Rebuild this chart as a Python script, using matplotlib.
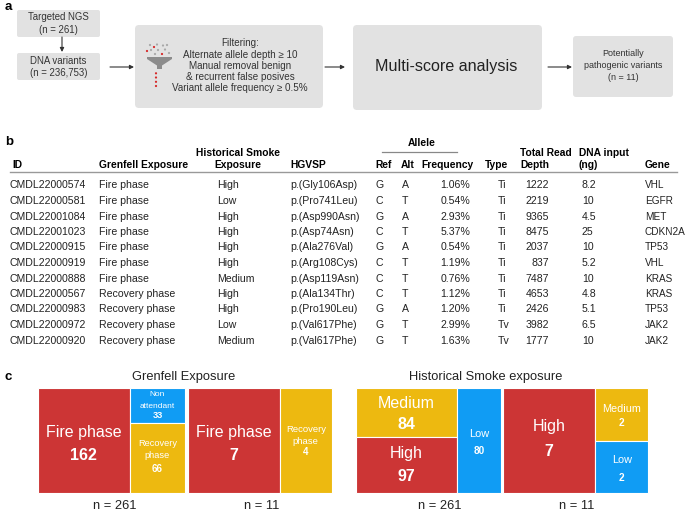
import matplotlib
matplotlib.use('Agg')
import matplotlib.pyplot as plt
from matplotlib.patches import FancyBboxPatch, Polygon, Circle

plt.rcParams['font.family'] = ['Liberation Sans', 'DejaVu Sans']

# ---------------- data ----------------
ids = ["CMDL22000574", "CMDL22000581", "CMDL22001084", "CMDL22001023", "CMDL22000915",
       "CMDL22000919", "CMDL22000888", "CMDL22000567", "CMDL22000983", "CMDL22000972",
       "CMDL22000920"]
grenfell = ["Fire phase"] * 7 + ["Recovery phase"] * 4
smoke = ["High", "Low", "High", "High", "High", "High", "Medium", "High", "High", "Low", "Medium"]
hgvsp = ["p.(Gly106Asp)", "p.(Pro741Leu)", "p.(Asp990Asn)", "p.(Asp74Asn)", "p.(Ala276Val)",
         "p.(Arg108Cys)", "p.(Asp119Asn)", "p.(Ala134Thr)", "p.(Pro190Leu)", "p.(Val617Phe)",
         "p.(Val617Phe)"]
ref = ["G", "C", "G", "C", "G", "C", "C", "C", "G", "G", "G"]
alt = ["A", "T", "A", "T", "A", "T", "T", "T", "A", "T", "T"]
freq = [1.06, 0.54, 2.93, 5.37, 0.54, 1.19, 0.76, 1.12, 1.20, 2.99, 1.63]
vtype = ["Ti"] * 9 + ["Tv", "Tv"]
depth = [1222, 2219, 9365, 8475, 2037, 837, 7487, 4653, 2426, 3982, 1777]
dna_input = ["8.2", "10", "4.5", "25", "10", "5.2", "10", "4.8", "5.1", "6.5", "10"]
gene = ["VHL", "EGFR", "MET", "CDKN2A", "TP53", "VHL", "KRAS", "KRAS", "TP53", "JAK2", "JAK2"]

# mosaic data: columns of stacked categories (top to bottom)
gren_all_cols = [["Fire phase"], ["Non attendant", "Recovery phase"]]
gren_all_counts = {"Fire phase": 162, "Non attendant": 33, "Recovery phase": 66}
gren_path_cols = [["Fire phase"], ["Recovery phase"]]
gren_path_counts = {"Fire phase": 7, "Recovery phase": 4}
smoke_all_cols = [["Medium", "High"], ["Low"]]
smoke_all_counts = {"High": 97, "Medium": 84, "Low": 80}
smoke_path_cols = [["High"], ["Medium", "Low"]]
smoke_path_counts = {"High": 7, "Medium": 2, "Low": 2}

RED = "#cc3535"
YEL = "#edb910"
BLU = "#109cf4"
cat_colors = {"Fire phase": RED, "Non attendant": BLU, "Recovery phase": YEL,
              "High": RED, "Medium": YEL, "Low": BLU}

# ---------------- figure ----------------
fig = plt.figure(figsize=(6.85, 5.14), dpi=100)
ax = fig.add_axes([0, 0, 1, 1])
ax.set_xlim(0, 685)
ax.set_ylim(514, 0)
ax.axis('off')

TXT = "#333333"
BOX = "#e2e2e2"

# panel letters
for lab, (x, y) in {"a": (5, 7), "b": (5, 142), "c": (5, 377)}.items():
    ax.text(x, y, lab, fontsize=9.5, fontweight='bold', va='center', ha='left')

def box(x0, y0, x1, y1, r):
    ax.add_patch(FancyBboxPatch((x0, y0), x1 - x0, y1 - y0,
                                boxstyle=f"round,pad=0,rounding_size={r}",
                                fc=BOX, ec='none'))

def arrow(x0, y0, x1, y1):
    ax.annotate('', xy=(x1, y1), xytext=(x0, y0),
                arrowprops=dict(arrowstyle='-|>', color='#333333', lw=0.8,
                                mutation_scale=6, shrinkA=0, shrinkB=0))

# ---- panel a: flowchart ----
box(17, 10, 100, 37, 2)
ax.text(58.5, 17, "Targeted NGS", fontsize=6.9, ha='center', va='center', color=TXT)
ax.text(58.5, 30, "(n = 261)", fontsize=6.9, ha='center', va='center', color=TXT)
arrow(62, 37, 62, 52)
box(17, 53, 100, 80, 2)
ax.text(58.5, 61.5, "DNA variants", fontsize=6.9, ha='center', va='center', color=TXT)
ax.text(58.5, 73, "(n = 236,753)", fontsize=6.9, ha='center', va='center', color=TXT)
arrow(110, 67, 134, 67)
box(135, 25, 323, 108, 4)
filt_lines = ["Filtering:", "Alternate allele depth \u2265 10", "Manual removal benign",
              "& recurrent false posives", "Variant allele frequency \u2265 0.5%"]
for i, s in enumerate(filt_lines):
    ax.text(240, 43.5 + i * 11.2, s, fontsize=7.1, ha='center', va='center', color=TXT)
# funnel icon
ax.add_patch(Polygon([(147, 57), (172, 57), (172, 59), (162, 65.5), (162, 69),
                      (157, 69), (157, 65.5), (147, 59)], closed=True, fc='#8c8c8c', ec='none'))
gray_dots = [(150, 45), (157, 44.5), (163, 45.5), (151, 50), (158, 50), (165, 49.5),
             (155, 54), (169, 53), (167, 45)]
red_dots = [(154, 47), (147, 51), (162, 54), (156, 73.3), (156, 77.5), (156, 81.8), (156, 86)]
for (x, y) in gray_dots:
    ax.add_patch(Circle((x, y), 1.1, fc='#a8a8a8', ec='none'))
for (x, y) in red_dots:
    ax.add_patch(Circle((x, y), 1.1, fc='#d62828', ec='none'))
arrow(325, 67, 345, 67)
box(353, 25, 542, 110, 4)
ax.text(446, 67, "Multi-score analysis", fontsize=11.6, ha='center', va='center', color='#222222')
arrow(548, 67, 572, 67)
box(573, 36, 673, 97, 3)
for i, s in enumerate(["Potentially", "pathogenic variants", "(n = 11)"]):
    ax.text(623, 54 + i * 11.5, s, fontsize=6.5, ha='center', va='center', color=TXT)

# ---- panel b: table ----
HFS = 7.4
RFS = 7.6
hy2, hy1 = 164.5, 153.5
ax.text(421.5, 142.5, "Allele", fontsize=HFS, fontweight='bold', ha='center', va='center')
ax.plot([382, 457], [151.5, 151.5], color='#888888', lw=0.9)
headers = [(12, hy2, "ID"), (99, hy2, "Grenfell Exposure"), (290, hy2, "HGVSP"),
           (375, hy2, "Ref"), (401, hy2, "Alt"), (421, hy2, "Frequency"), (485, hy2, "Type"),
           (520, hy1, "Total Read"), (520, hy2, "Depth"), (579, hy1, "DNA input"),
           (579, hy2, "(ng)"), (645, hy2, "Gene")]
for x, y, s in headers:
    ax.text(x, y, s, fontsize=HFS, fontweight='bold', ha='left', va='center')
ax.text(238, hy1, "Historical Smoke", fontsize=HFS, fontweight='bold', ha='center', va='center')
ax.text(238, hy2, "Exposure", fontsize=HFS, fontweight='bold', ha='center', va='center')
ax.plot([10, 677], [172, 172], color='#999999', lw=1.0)

RC = '#222222'
for i in range(len(ids)):
    y = 185.5 + i * 15.5
    ax.text(10, y, ids[i], fontsize=RFS, ha='left', va='center', color=RC)
    ax.text(99, y, grenfell[i], fontsize=RFS, ha='left', va='center', color=RC)
    ax.text(217, y, smoke[i], fontsize=RFS, ha='left', va='center', color=RC)
    ax.text(290, y, hgvsp[i], fontsize=RFS, ha='left', va='center', color=RC)
    ax.text(376, y, ref[i], fontsize=RFS, ha='left', va='center', color=RC)
    ax.text(402, y, alt[i], fontsize=RFS, ha='left', va='center', color=RC)
    ax.text(470, y, f"{freq[i]:.2f}%", fontsize=RFS, ha='right', va='center', color=RC)
    ax.text(498, y, vtype[i], fontsize=RFS, ha='left', va='center', color=RC)
    ax.text(549, y, f"{depth[i]}", fontsize=RFS, ha='right', va='center', color=RC)
    ax.text(582, y, dna_input[i], fontsize=RFS, ha='left', va='center', color=RC)
    ax.text(645, y, gene[i], fontsize=7.2, ha='left', va='center', color=RC)

# ---- panel c: mosaics ----
MY0, MY1 = 388, 493

# per-cell text style: (label lines, label size, number size, label dys, number dy)
cell_style = {
    (0, "Fire phase"): (["Fire phase"], 11.5, 11.5, [-8.5], 14.5),
    (0, "Non attendant"): (["Non", "attendant"], 6.0, 6.6, [-10.5, 0.5], 10.5),
    (0, "Recovery phase"): (["Recovery", "phase"], 6.7, 7.0, [-14, -2], 11),
    (1, "Fire phase"): (["Fire phase"], 11.5, 11.5, [-8.5], 14.5),
    (1, "Recovery phase"): (["Recovery", "phase"], 6.8, 7.0, [-10.5, 0.5], 11.5),
    (2, "Medium"): (["Medium"], 11.5, 11.5, [-8.4], 12.6),
    (2, "High"): (["High"], 11.5, 11.5, [-10.9], 12.1),
    (2, "Low"): (["Low"], 7.9, 7.2, [-6.5], 10.5),
    (3, "High"): (["High"], 11.5, 11.5, [-14.5], 11.5),
    (3, "Medium"): (["Medium"], 7.8, 7.2, [-5.3], 8.7),
    (3, "Low"): (["Low"], 7.8, 7.2, [-6.8], 11.2),
}

def mosaic(idx, x0, x1, cols, counts):
    total = sum(counts.values())
    left = x0
    for col in cols:
        csum = sum(counts[c] for c in col)
        w = (x1 - x0) * csum / total
        top = MY0
        for cat in col:
            h = (MY1 - MY0) * counts[cat] / csum
            ax.bar(left, h, width=w, bottom=top, align='edge', color=cat_colors[cat],
                   edgecolor='white', linewidth=0.8)
            cx, cy = left + w / 2, top + h / 2
            lines, lfs, nfs, ldys, ndy = cell_style[(idx, cat)]
            for s, dy in zip(lines, ldys):
                ax.text(cx, cy + dy, s, fontsize=lfs, color='white', ha='center', va='center')
            ax.text(cx, cy + ndy, str(counts[cat]), fontsize=nfs, color='white',
                    fontweight='bold', ha='center', va='center')
            top += h
        left += w
    return total

n1 = mosaic(0, 38, 185.5, gren_all_cols, gren_all_counts)
n2 = mosaic(1, 188, 332, gren_path_cols, gren_path_counts)
n3 = mosaic(2, 356, 501.5, smoke_all_cols, smoke_all_counts)
n4 = mosaic(3, 503, 648, smoke_path_cols, smoke_path_counts)

ax.text(184, 377, "Grenfell Exposure", fontsize=9.3, ha='center', va='center', color='#222222')
ax.text(486, 377, "Historical Smoke exposure", fontsize=9.3, ha='center', va='center', color='#222222')
for x, n in [(115, n1), (262, n2), (440, n3), (577, n4)]:
    ax.text(x, 506, f"n = {n}", fontsize=9.3, ha='center', va='center', color='#222222')

fig.savefig("out.png", dpi=100, facecolor='white')
